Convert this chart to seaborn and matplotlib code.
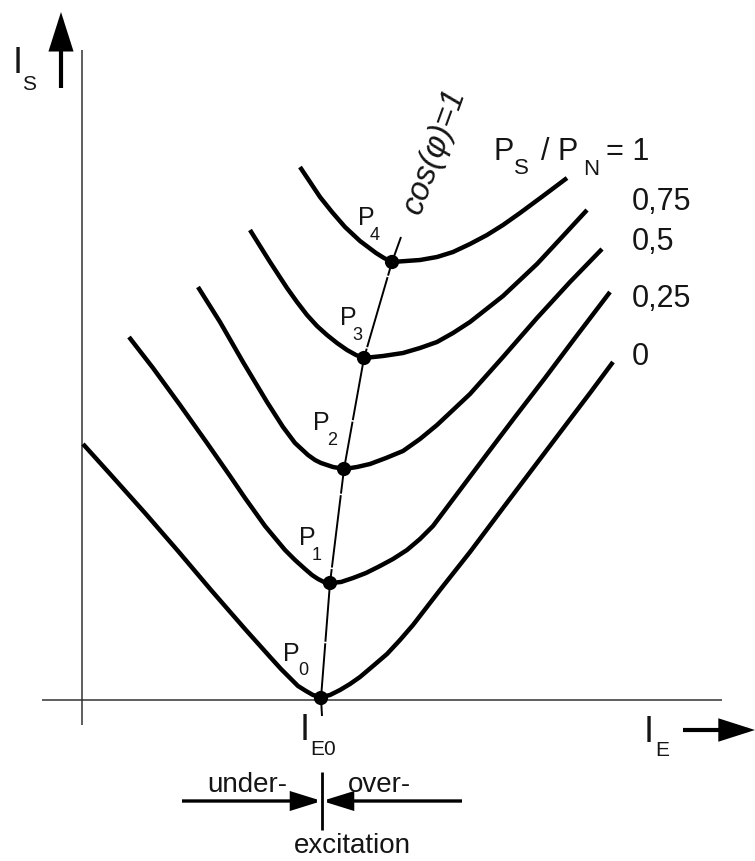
import numpy as np
import pandas as pd
import matplotlib
matplotlib.use("Agg")
import matplotlib.pyplot as plt
from matplotlib.patches import FancyArrowPatch
import seaborn as sns

# ---- data (in drawing units: x = I_E, y = I_S, y grows downward) ----
curve_labels = ["1", "0,75", "0,5", "0,25", "0"]

c0_x = [83, 111, 145, 178, 211, 245, 271, 281, 291, 298, 306, 313, 321, 330, 340, 350, 360, 373,
        387, 400, 413, 440, 470, 503, 537, 568, 590, 613]
c0_y = [444, 475, 513, 551, 590, 629, 658, 669, 679, 686, 691, 695, 697, 695, 690, 684, 677, 666,
        654, 640, 625, 590, 552, 508, 463, 422, 393, 362]

c25_x = [129, 153, 180, 207, 230, 245, 265, 285, 295, 305, 312, 318, 324, 330, 341, 353, 366, 380,
         393, 407, 420, 433, 460, 487, 515, 545, 575, 610]
c25_y = [337, 368, 405, 443, 476, 498, 526, 550, 560, 569, 575, 579, 582, 583, 582, 578, 573, 566,
         559, 550, 539, 526, 490, 454, 417, 378, 338, 292]

c50_x = [198, 220, 243, 267, 283, 295, 308, 315, 321, 327, 333, 339, 344, 357, 370, 386, 403, 420,
         437, 453, 470, 503, 537, 570, 602]
c50_y = [287, 322, 362, 402, 427, 443, 455, 460, 463, 465, 467, 468, 469, 467, 464, 458, 451, 439,
         425, 410, 394, 357, 318, 282, 249]

c75_x = [250, 260, 270, 287, 297, 307, 317, 327, 337, 347, 356, 364, 383, 403, 420, 437, 453, 470,
         503, 537, 563, 587]
c75_y = [230, 246, 262, 288, 302, 315, 326, 335, 343, 350, 355, 358, 356, 353, 348, 342, 333, 322,
         296, 264, 236, 210]

c100_x = [300, 310, 320, 332, 345, 360, 376, 384, 392, 406, 420, 437, 453, 470, 487, 503, 520, 543, 567]
c100_y = [167, 182, 197, 212, 227, 241, 253, 258, 262, 261, 260, 257, 252, 244, 235, 225, 213, 196, 178]

# operating points P0..P4 (cos(phi)=1)
p_names = ["0", "1", "2", "3", "4"]
p_x = [321, 330, 344, 364, 392]
p_y = [698, 583, 469, 358, 262]

# cos(phi)=1 line
cos_x = [322, 321, 330, 344, 364, 392, 401]
cos_y = [716, 698, 583, 469, 358, 262, 237]

# ---- build tables ----
frames = []
for name, xs, ys in [("0", c0_x, c0_y), ("0,25", c25_x, c25_y), ("0,5", c50_x, c50_y),
                     ("0,75", c75_x, c75_y), ("1", c100_x, c100_y)]:
    frames.append(pd.DataFrame({"IE": xs, "IS": ys, "curve": name}))
curves = pd.concat(frames, ignore_index=True)
pts = pd.DataFrame({"IE": p_x, "IS": p_y, "name": p_names})
cosdf = pd.DataFrame({"IE": cos_x, "IS": cos_y})

sns.set_style("white")
plt.rcParams["font.family"] = ["Liberation Sans", "DejaVu Sans"]

W, H = 755, 861
fig = plt.figure(figsize=(W / 100, H / 100), dpi=100)
ax = fig.add_axes([0, 0, 1, 1])
ax.set_xlim(0, W)
ax.set_ylim(H, 0)
ax.axis("off")

axc = "#333333"
txtc = "#151515"
# axes lines
ax.plot([82, 82], [50, 725], color=axc, lw=1.1, solid_capstyle="butt")
ax.plot([42, 722], [700, 700], color=axc, lw=1.1, solid_capstyle="butt")

# cos(phi)=1 line, long dashes with small gaps
sns.lineplot(data=cosdf, x="IE", y="IS", sort=False, estimator=None, color="black",
             lw=1.4, ax=ax)
cosline = ax.lines[-1]
cosline.set_dashes((37.5, 0.8))
cosline.set_dash_capstyle("butt")

# V-curves
sns.lineplot(data=curves, x="IE", y="IS", units="curve", estimator=None, sort=False,
             color="black", lw=3.2, ax=ax)
for ln in ax.lines:
    ln.set_solid_joinstyle("round")
    ln.set_solid_capstyle("butt")

# points
sns.scatterplot(data=pts, x="IE", y="IS", color="black", s=105, edgecolor="none", ax=ax, zorder=5)
ax.set_xlabel("")
ax.set_ylabel("")
if ax.get_legend():
    ax.get_legend().remove()

big = 22

# P labels
plab = [(358, 225, 370, 240), (340, 325, 352, 340), (313, 430, 327, 445),
        (299, 545, 312, 560), (283, 661, 298, 675)]
for nm, (xp, yp, xs, ys) in zip(["4", "3", "2", "1", "0"], plab):
    ax.text(xp, yp, "P", fontsize=18, ha="left", va="baseline", color=txtc)
    ax.text(xs, ys, nm, fontsize=13, ha="left", va="baseline", color=txtc)

# curve labels
lab_y = [210, 250, 307, 365]
for t, yb in zip(curve_labels[1:], lab_y):
    ax.text(632, yb, t, fontsize=big, ha="left", va="baseline", color=txtc)
ax.text(493, 160, "P", fontsize=big, ha="left", va="baseline", color=txtc)
ax.text(514, 174, "S", fontsize=16, ha="left", va="baseline", color=txtc)
ax.text(541, 160, "/ P", fontsize=big, ha="left", va="baseline", color=txtc)
ax.text(583, 175, "N", fontsize=16, ha="left", va="baseline", color=txtc)
ax.text(606, 160, "= 1", fontsize=big, ha="left", va="baseline", color=txtc)

# cos label
ax.text(435, 151, "cos(φ)=1", fontsize=23.5, style="italic", rotation=70,
        ha="center", va="center", rotation_mode="anchor", color=txtc)

# axis labels
ax.text(13, 73, "I", fontsize=26, ha="left", va="baseline", color=txtc)
ax.text(22, 90, "S", fontsize=15, ha="left", va="baseline", color=txtc)
ax.text(644, 742, "I", fontsize=26, ha="left", va="baseline", color=txtc)
ax.text(655, 756, "E", fontsize=15, ha="left", va="baseline", color=txtc)
ax.text(300, 740, "I", fontsize=26, ha="left", va="baseline", color=txtc)
ax.text(310, 755, "E0", fontsize=15, ha="left", va="baseline", color=txtc)

def arrow(x0, y0, x1, y1, lw, hl, hw):
    a = FancyArrowPatch((x0, y0), (x1, y1),
                        arrowstyle=f"-|>,head_length={hl},head_width={hw}",
                        mutation_scale=20, lw=lw, color="black", shrinkA=0, shrinkB=0,
                        joinstyle="miter", capstyle="butt")
    ax.add_patch(a)

arrow(61, 88, 61, 12, 3.0, 1.1, 0.35)
arrow(683, 730, 755, 730, 3.0, 1.0, 0.32)

# excitation indicator
arrow(182, 801, 322, 801, 2.4, 0.9, 0.28)
arrow(462, 801, 322, 801, 2.4, 0.9, 0.28)
ax.plot([322, 322], [772, 830], color="black", lw=2.0, solid_capstyle="butt")
ax.text(207, 792, "under-", fontsize=20, ha="left", va="baseline", color=txtc)
ax.text(348, 792, "over-", fontsize=20, ha="left", va="baseline", color=txtc)
ax.text(352, 853, "excitation", fontsize=20, ha="center", va="baseline", color=txtc)

fig.savefig("out.png", dpi=100, facecolor="white")
